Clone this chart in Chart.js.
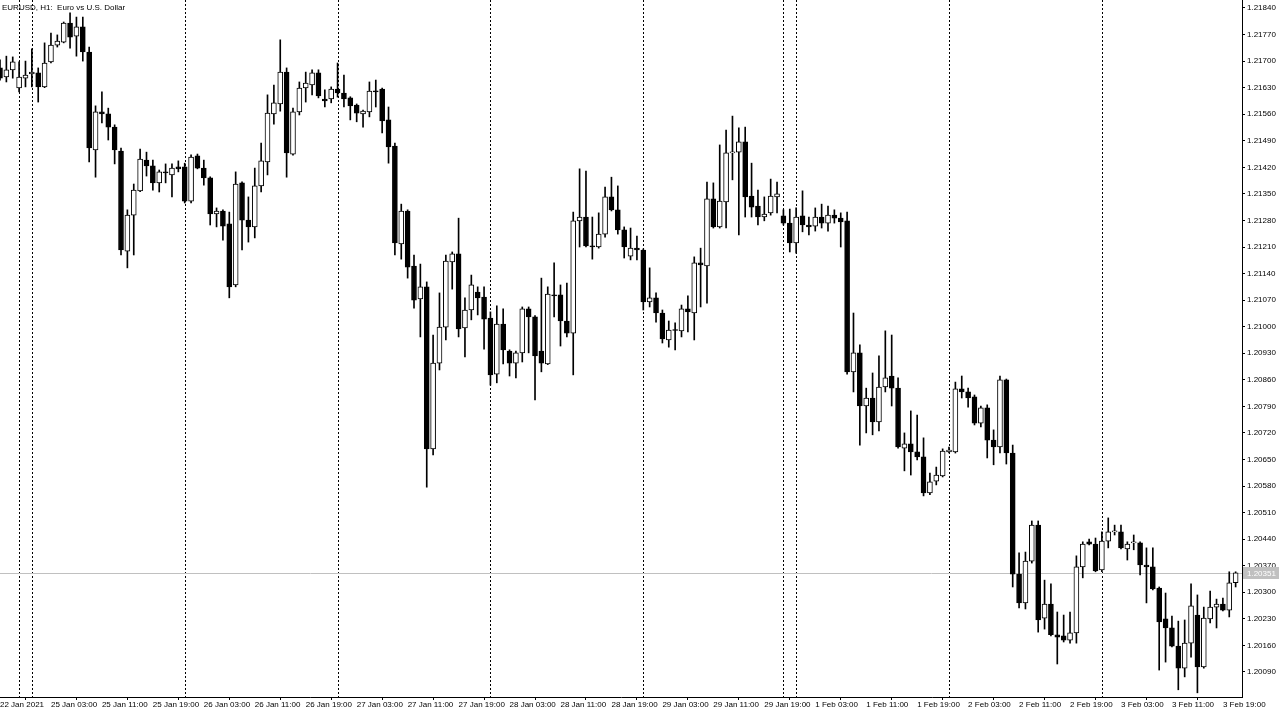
<!DOCTYPE html>
<html lang="en">
<head>
    <meta charset="UTF-8">
    <title>EURUSD H1</title>
    <script src="https://cdn.jsdelivr.net/npm/chart.js"></script>
    <style>
        body { margin: 0; background: #fff; }
        #wrap { width: 1280px; height: 714px; position: relative; }
    </style>
</head>
<body>
<div id="wrap"><canvas id="myChart"></canvas></div>
<script>
    const chartTitle = 'EURUSD, H1:  Euro vs U.S. Dollar';

    // trading days: [day, first hour, last hour]
    const days = [
        ['22 Jan', 19, 21], ['24 Jan', 22, 23], ['25 Jan', 0, 23], ['26 Jan', 0, 23],
        ['27 Jan', 0, 23], ['28 Jan', 0, 23], ['29 Jan', 0, 21], ['31 Jan', 22, 23],
        ['1 Feb', 0, 23], ['2 Feb', 0, 23], ['3 Feb', 0, 21]
    ];

    const opens = [
        1.21682, 1.21658, 1.21677, 1.21629, 1.21655, 1.21666, 1.21669, 1.21632, 1.21698, 1.21742,
        1.21750, 1.21800, 1.21766, 1.21790, 1.21724, 1.21466, 1.21566, 1.21561, 1.21526, 1.21463,
        1.21199, 1.21294, 1.21358, 1.21439, 1.21424, 1.21379, 1.21408, 1.21400, 1.21421, 1.21421,
        1.21331, 1.21450, 1.21418, 1.21392, 1.21297, 1.21305, 1.21271, 1.21110, 1.21379, 1.21281,
        1.21263, 1.21371, 1.21434, 1.21561, 1.21587, 1.21671, 1.21455, 1.21566, 1.21629, 1.21637,
        1.21669, 1.21600, 1.21600, 1.21626, 1.21616, 1.21603, 1.21584, 1.21561, 1.21566, 1.21621,
        1.21626, 1.21545, 1.21476, 1.21218, 1.21305, 1.21160, 1.21073, 1.21105, 1.20678, 1.20904,
        1.20999, 1.21171, 1.21192, 1.20997, 1.21044, 1.21091, 1.21078, 1.21023, 1.20875, 1.21007,
        1.20936, 1.20904, 1.20931, 1.21047, 1.21026, 1.20936, 1.20902, 1.21084, 1.21084, 1.21015,
        1.20983, 1.21279, 1.21289, 1.21213, 1.21210, 1.21244, 1.21342, 1.21308, 1.21255, 1.21186,
        1.21207, 1.21202, 1.21065, 1.21076, 1.21036, 1.20965, 1.20991, 1.20989, 1.21047, 1.21036,
        1.21168, 1.21160, 1.21337, 1.21263, 1.21329, 1.21458, 1.21460, 1.21487, 1.21344, 1.21318,
        1.21289, 1.21300, 1.21342, 1.21292, 1.21273, 1.21221, 1.21292, 1.21268, 1.21265, 1.21289,
        1.21273, 1.21294, 1.21286, 1.21279, 1.20881, 1.20931, 1.20791, 1.20812, 1.20749, 1.20841,
        1.20870, 1.20838, 1.20680, 1.20691, 1.20670, 1.20657, 1.20562, 1.20593, 1.20607, 1.20670,
        1.20670, 1.20836, 1.20828, 1.20815, 1.20746, 1.20786, 1.20701, 1.20683, 1.20860, 1.20667,
        1.20348, 1.20272, 1.20382, 1.20477, 1.20232, 1.20269, 1.20188, 1.20185, 1.20174, 1.20193,
        1.20367, 1.20433, 1.20427, 1.20359, 1.20435, 1.20459, 1.20459, 1.20414, 1.20430, 1.20430,
        1.20372, 1.20367, 1.20311, 1.20230, 1.20206, 1.20158, 1.20100, 1.20166, 1.20240, 1.20103,
        1.20230, 1.20261, 1.20269, 1.20253, 1.20325
    ];
    const highs = [
        1.21703, 1.21713, 1.21711, 1.21698, 1.21700, 1.21732, 1.21682, 1.21748, 1.21774, 1.21769,
        1.21803, 1.21827, 1.21816, 1.21816, 1.21737, 1.21582, 1.21619, 1.21576, 1.21532, 1.21471,
        1.21308, 1.21376, 1.21468, 1.21460, 1.21439, 1.21413, 1.21429, 1.21429, 1.21437, 1.21431,
        1.21453, 1.21455, 1.21439, 1.21395, 1.21313, 1.21308, 1.21302, 1.21408, 1.21382, 1.21342,
        1.21418, 1.21484, 1.21611, 1.21637, 1.21756, 1.21682, 1.21576, 1.21645, 1.21671, 1.21677,
        1.21677, 1.21624, 1.21632, 1.21695, 1.21663, 1.21606, 1.21587, 1.21571, 1.21645, 1.21650,
        1.21629, 1.21579, 1.21484, 1.21323, 1.21308, 1.21189, 1.21165, 1.21118, 1.20978, 1.21089,
        1.21189, 1.21197, 1.21286, 1.21076, 1.21136, 1.21105, 1.21105, 1.21039, 1.21055, 1.21047,
        1.20939, 1.20936, 1.21052, 1.21052, 1.21029, 1.21128, 1.21105, 1.21168, 1.21110, 1.21115,
        1.21302, 1.21416, 1.21410, 1.21289, 1.21300, 1.21368, 1.21394, 1.21371, 1.21263, 1.21260,
        1.21239, 1.21205, 1.21155, 1.21089, 1.21044, 1.21015, 1.21010, 1.21057, 1.21081, 1.21184,
        1.21207, 1.21381, 1.21379, 1.21479, 1.21518, 1.21555, 1.21524, 1.21526, 1.21431, 1.21360,
        1.21342, 1.21389, 1.21381, 1.21308, 1.21310, 1.21313, 1.21358, 1.21289, 1.21313, 1.21323,
        1.21318, 1.21308, 1.21300, 1.21302, 1.21036, 1.20952, 1.20838, 1.20878, 1.20923, 1.20989,
        1.20978, 1.20865, 1.20720, 1.20778, 1.20767, 1.20707, 1.20614, 1.20630, 1.20678, 1.20683,
        1.20854, 1.20870, 1.20838, 1.20820, 1.20791, 1.20794, 1.20728, 1.20870, 1.20862, 1.20688,
        1.20404, 1.20406, 1.20488, 1.20488, 1.20332, 1.20322, 1.20248, 1.20240, 1.20248, 1.20396,
        1.20433, 1.20440, 1.20443, 1.20459, 1.20496, 1.20477, 1.20477, 1.20433, 1.20451, 1.20433,
        1.20417, 1.20417, 1.20314, 1.20298, 1.20237, 1.20224, 1.20227, 1.20322, 1.20293, 1.20261,
        1.20303, 1.20282, 1.20285, 1.20354, 1.20354
    ];
    const lows = [
        1.21650, 1.21645, 1.21655, 1.21619, 1.21632, 1.21632, 1.21592, 1.21630, 1.21695, 1.21737,
        1.21748, 1.21734, 1.21713, 1.21700, 1.21434, 1.21394, 1.21537, 1.21492, 1.21429, 1.21189,
        1.21155, 1.21189, 1.21356, 1.21397, 1.21360, 1.21355, 1.21379, 1.21342, 1.21408, 1.21326,
        1.21326, 1.21416, 1.21373, 1.21268, 1.21263, 1.21228, 1.21076, 1.21105, 1.21202, 1.21223,
        1.21234, 1.21355, 1.21400, 1.21534, 1.21568, 1.21394, 1.21452, 1.21558, 1.21592, 1.21611,
        1.21603, 1.21579, 1.21590, 1.21605, 1.21579, 1.21545, 1.21540, 1.21526, 1.21553, 1.21579,
        1.21511, 1.21431, 1.21189, 1.21178, 1.21128, 1.21049, 1.20973, 1.20577, 1.20662, 1.20886,
        1.20965, 1.21099, 1.20973, 1.20920, 1.21018, 1.21031, 1.20941, 1.20846, 1.20852, 1.20902,
        1.20870, 1.20865, 1.20907, 1.20931, 1.20807, 1.20881, 1.20900, 1.21026, 1.20949, 1.20973,
        1.20873, 1.21210, 1.21210, 1.21178, 1.21207, 1.21236, 1.21305, 1.21244, 1.21181, 1.21176,
        1.21176, 1.21044, 1.21052, 1.21012, 1.20957, 1.20946, 1.20939, 1.20973, 1.20986, 1.20965,
        1.21052, 1.21062, 1.21260, 1.21260, 1.21260, 1.21387, 1.21242, 1.21289, 1.21289, 1.21268,
        1.21279, 1.21294, 1.21300, 1.21268, 1.21197, 1.21194, 1.21250, 1.21242, 1.21252, 1.21260,
        1.21252, 1.21273, 1.21210, 1.20875, 1.20828, 1.20688, 1.20720, 1.20715, 1.20725, 1.20828,
        1.20791, 1.20680, 1.20620, 1.20609, 1.20649, 1.20554, 1.20557, 1.20583, 1.20604, 1.20667,
        1.20667, 1.20812, 1.20788, 1.20741, 1.20736, 1.20654, 1.20636, 1.20667, 1.20638, 1.20314,
        1.20259, 1.20256, 1.20377, 1.20195, 1.20203, 1.20185, 1.20111, 1.20169, 1.20166, 1.20166,
        1.20338, 1.20425, 1.20354, 1.20354, 1.20417, 1.20451, 1.20414, 1.20385, 1.20412, 1.20346,
        1.20272, 1.20306, 1.20095, 1.20116, 1.20156, 1.20043, 1.20077, 1.20129, 1.20035, 1.20100,
        1.20219, 1.20206, 1.20251, 1.20235, 1.20314
    ];
    const closes = [
        1.21655, 1.21677, 1.21698, 1.21658, 1.21663, 1.21671, 1.21632, 1.21695, 1.21742, 1.21753,
        1.21800, 1.21763, 1.21790, 1.21724, 1.21471, 1.21566, 1.21561, 1.21526, 1.21466, 1.21202,
        1.21294, 1.21360, 1.21442, 1.21424, 1.21379, 1.21408, 1.21405, 1.21418, 1.21416, 1.21331,
        1.21447, 1.21418, 1.21392, 1.21297, 1.21305, 1.21265, 1.21105, 1.21376, 1.21281, 1.21263,
        1.21371, 1.21437, 1.21563, 1.21590, 1.21671, 1.21458, 1.21566, 1.21629, 1.21642, 1.21669,
        1.21608, 1.21595, 1.21626, 1.21616, 1.21600, 1.21582, 1.21563, 1.21568, 1.21621, 1.21619,
        1.21542, 1.21474, 1.21221, 1.21305, 1.21157, 1.21070, 1.21105, 1.20678, 1.20904, 1.20999,
        1.21173, 1.21192, 1.20994, 1.21044, 1.21110, 1.21076, 1.21020, 1.20873, 1.21007, 1.20939,
        1.20904, 1.20931, 1.21047, 1.21026, 1.20923, 1.20904, 1.21086, 1.21081, 1.21015, 1.20983,
        1.21279, 1.21289, 1.21213, 1.21210, 1.21244, 1.21342, 1.21308, 1.21255, 1.21210, 1.21207,
        1.21202, 1.21065, 1.21076, 1.21036, 1.20968, 1.20991, 1.20990, 1.21047, 1.21039, 1.21168,
        1.21163, 1.21337, 1.21263, 1.21331, 1.21458, 1.21460, 1.21487, 1.21342, 1.21315, 1.21289,
        1.21297, 1.21344, 1.21350, 1.21273, 1.21221, 1.21289, 1.21268, 1.21263, 1.21289, 1.21273,
        1.21294, 1.21286, 1.21276, 1.20881, 1.20931, 1.20791, 1.20812, 1.20749, 1.20841, 1.20865,
        1.20838, 1.20683, 1.20691, 1.20670, 1.20657, 1.20562, 1.20591, 1.20609, 1.20672, 1.20675,
        1.20836, 1.20828, 1.20812, 1.20746, 1.20786, 1.20701, 1.20683, 1.20860, 1.20667, 1.20348,
        1.20272, 1.20382, 1.20477, 1.20227, 1.20269, 1.20188, 1.20182, 1.20174, 1.20193, 1.20367,
        1.20427, 1.20427, 1.20356, 1.20435, 1.20459, 1.20462, 1.20417, 1.20427, 1.20433, 1.20372,
        1.20367, 1.20309, 1.20222, 1.20206, 1.20158, 1.20100, 1.20166, 1.20264, 1.20103, 1.20232,
        1.20261, 1.20269, 1.20253, 1.20325, 1.20351
    ];

    const yTicks = [
        1.21840, 1.21770, 1.21700, 1.21630, 1.21560, 1.21490, 1.21420, 1.21350, 1.21280,
        1.21210, 1.21140, 1.21070, 1.21000, 1.20930, 1.20860, 1.20790, 1.20720, 1.20650,
        1.20580, 1.20510, 1.20440, 1.20370, 1.20300, 1.20230, 1.20160, 1.20090
    ];
    const xTickLabels = [
        '22 Jan 2021', '25 Jan 03:00', '25 Jan 11:00', '25 Jan 19:00', '26 Jan 03:00',
        '26 Jan 11:00', '26 Jan 19:00', '27 Jan 03:00', '27 Jan 11:00', '27 Jan 19:00',
        '28 Jan 03:00', '28 Jan 11:00', '28 Jan 19:00', '29 Jan 03:00', '29 Jan 11:00',
        '29 Jan 19:00', '1 Feb 03:00', '1 Feb 11:00', '1 Feb 19:00', '2 Feb 03:00',
        '2 Feb 11:00', '2 Feb 19:00', '3 Feb 03:00', '3 Feb 11:00', '3 Feb 19:00'
    ];
    const yMin = 1.20024, yMax = 1.21861;

    // hourly categories and day names
    const categories = [];
    const dayOf = [];
    days.forEach(([d, h0, h1]) => {
        for (let h = h0; h <= h1; h++) {
            categories.push(d + ' ' + String(h).padStart(2, '0') + ':00');
            dayOf.push(d);
        }
    });
    const separators = [];
    for (let i = 1; i < dayOf.length; i++) if (dayOf[i] !== dayOf[i - 1]) separators.push(i);

    const xTickIdx = xTickLabels.map((t, k) => k === 0 ? 0 : categories.indexOf(t));
    const lastClose = closes[closes.length - 1];

    Chart.defaults.font.family = '"Liberation Sans", Arial, sans-serif';
    Chart.defaults.font.size = 8;
    Chart.defaults.color = '#000';

    const mtPlugin = {
        id: 'mt',
        beforeDatasetsDraw(chart) {
            const {ctx, chartArea: a, scales: {x, y}} = chart;
            ctx.save();
            ctx.strokeStyle = '#000';
            ctx.lineWidth = 1;
            ctx.setLineDash([2, 2]);
            separators.forEach(i => {
                const px = Math.round(x.getPixelForValue(i)) + 0.5;
                ctx.beginPath();
                ctx.moveTo(px, a.top);
                ctx.lineTo(px, a.bottom);
                ctx.stroke();
            });
            ctx.setLineDash([]);
            // bid line
            const py = Math.round(y.getPixelForValue(lastClose)) + 0.5;
            ctx.strokeStyle = '#c0c0c0';
            ctx.beginPath();
            ctx.moveTo(a.left, py);
            ctx.lineTo(a.right, py);
            ctx.stroke();
            ctx.restore();
        },
        afterDraw(chart) {
            const {ctx, chartArea: a, scales: {y}} = chart;
            ctx.save();
            ctx.font = '8px "Liberation Sans", Arial, sans-serif';
            ctx.fillStyle = '#000';
            ctx.textBaseline = 'alphabetic';
            ctx.fillText(chartTitle, 2, 10);
            // price tag
            const py = Math.round(y.getPixelForValue(lastClose));
            ctx.fillStyle = '#c0c0c0';
            ctx.fillRect(a.right + 1, py - 6, 36, 12);
            ctx.fillStyle = '#fff';
            ctx.textBaseline = 'middle';
            ctx.fillText(lastClose.toFixed(5), a.right + 5, py + 0.5);
            ctx.restore();
        }
    };

    const ctx = document.getElementById('myChart').getContext('2d');
    const myChart = new Chart(ctx, {
        type: 'bar',
        data: {
            labels: categories.concat(['']),
            datasets: [
                {
                    label: 'Body',
                    data: opens.map((o, i) => [o, closes[i]]),
                    backgroundColor: opens.map((o, i) => closes[i] >= o ? '#ffffff' : '#000000'),
                    borderColor: '#000',
                    borderWidth: 1,
                    borderSkipped: false,
                    barThickness: 5,
                    minBarLength: 1,
                    grouped: false,
                    order: 0
                },
                {
                    label: 'Wick',
                    data: lows.map((l, i) => [l, highs[i]]),
                    backgroundColor: '#000',
                    borderWidth: 0,
                    barThickness: 1,
                    grouped: false,
                    order: 1
                }
            ]
        },
        options: {
            responsive: true,
            maintainAspectRatio: false,
            animation: false,
            layout: { padding: 0 },
            plugins: { legend: { display: false }, tooltip: { enabled: false } },
            scales: {
                x: {
                    offset: false,
                    grid: { drawOnChartArea: false, drawTicks: true, tickLength: 3, color: '#000' },
                    border: { display: true, color: '#000' },
                    ticks: {
                        autoSkip: false, maxRotation: 0, minRotation: 0, align: 'start', padding: 0,
                        callback: (v) => xTickLabels[xTickIdx.indexOf(v)]
                    },
                    afterBuildTicks: s => { s.ticks = xTickIdx.map(v => ({ value: v })); },
                    afterFit: s => { s.height = 17; s.paddingLeft = 0; s.paddingRight = 0; }
                },
                y: {
                    position: 'right',
                    min: yMin,
                    max: yMax,
                    grid: { drawOnChartArea: false, drawTicks: true, tickLength: 3, color: '#000' },
                    border: { display: true, color: '#000' },
                    ticks: { padding: 2, callback: v => v.toFixed(5) },
                    afterBuildTicks: s => { s.ticks = yTicks.map(v => ({ value: v })); },
                    afterFit: s => { s.width = 38; s.paddingTop = 0; s.paddingBottom = 0; }
                }
            }
        },
        plugins: [mtPlugin]
    });
</script>
</body>
</html>
